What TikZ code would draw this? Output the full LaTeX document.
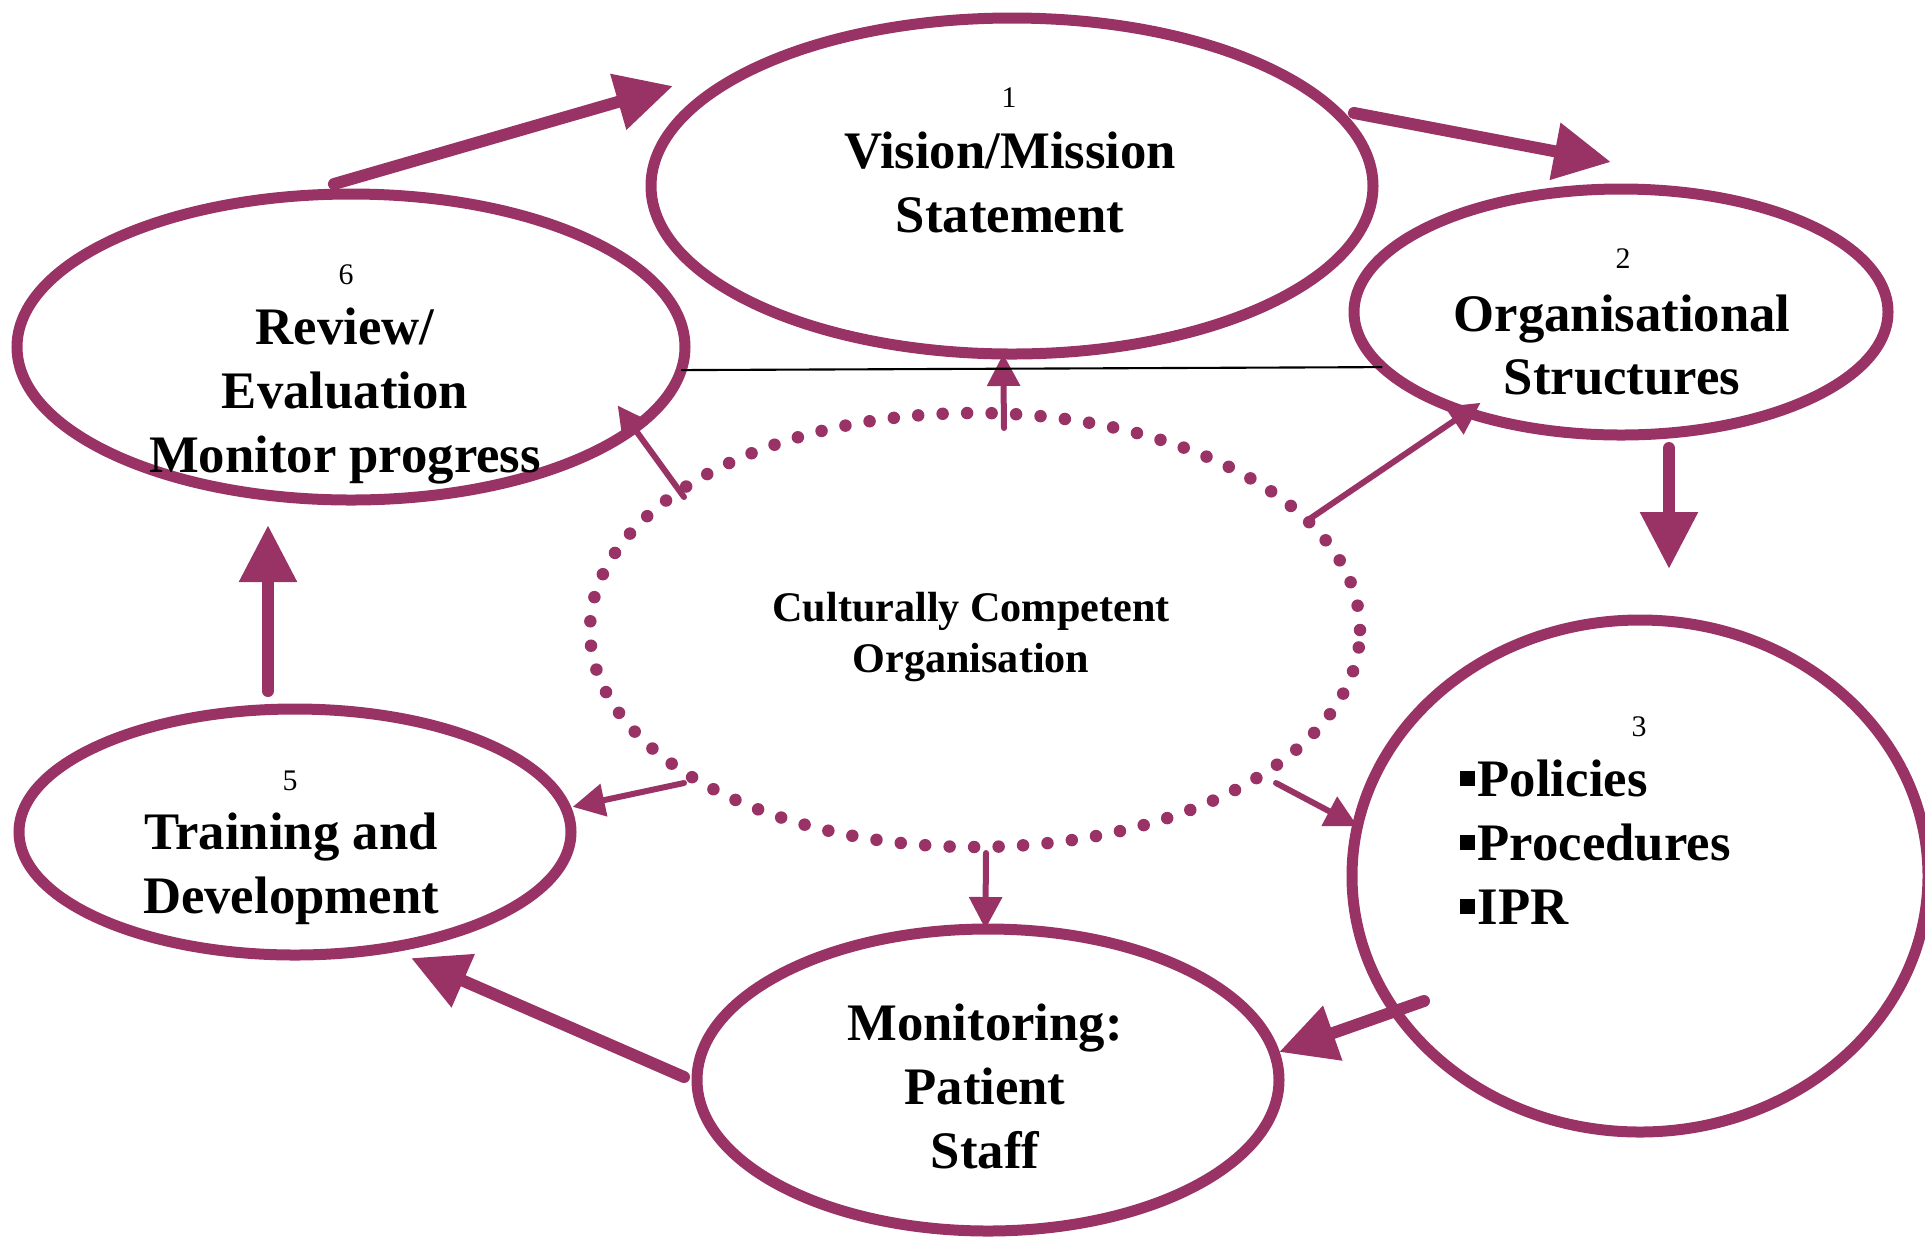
\documentclass[tikz,border=0pt]{standalone}
\usepackage{fontspec}
\setmainfont{Liberation Serif}
\usetikzlibrary{shapes.geometric,arrows.meta}
\definecolor{plum}{HTML}{993366}
\newcommand{\stagefont}{\bfseries\fontsize{15}{18.2}\selectfont}
\newcommand{\numfont}{\fontsize{8.5}{10}\selectfont}
\newcommand{\sqbullet}{\rule[0.1cm]{0.15cm}{0.15cm}\hspace{0.03cm}}

\begin{document}
\begin{tikzpicture}[
    stage/.style={draw=plum, line width=1.1mm, ellipse, inner sep=0pt, outer sep=0pt},
    stagetext/.style={font=\stagefont, align=center, inner sep=0pt},
    num/.style={font=\numfont, inner sep=0pt},
    bigarrow/.style={draw=plum, line width=1.2mm, line cap=round, -{Triangle[length=5.7mm,width=5.5mm]}},
    smallarrow/.style={draw=plum, line width=0.6mm, line cap=round, -{Triangle[length=3.2mm,width=3.2mm]}},
    dotring/.style={draw=plum, ellipse, line width=1.25mm, line cap=round, dash pattern=on 0pt off 2.45mm}
  ]
  \useasboundingbox (0,0) rectangle (19.25,-12.46);

  % Stages
  \node[stage, minimum width=7.22cm, minimum height=3.36cm] (vision) at (10.12,-1.86) {};
  \node[stage, minimum width=5.34cm, minimum height=2.46cm] (org) at (16.21,-3.12) {};
  \node[stage, minimum width=5.76cm, minimum height=5.12cm] (policies) at (16.40,-8.76) {};
  \node[stage, minimum width=5.82cm, minimum height=3.02cm] (monitoring) at (9.88,-10.80) {};
  \node[stage, minimum width=5.52cm, minimum height=2.46cm] (training) at (2.95,-8.32) {};
  \node[stage, minimum width=6.68cm, minimum height=3.06cm] (review) at (3.51,-3.47) {};

  % Centre
  \node[dotring, minimum width=7.70cm, minimum height=4.34cm] (cco) at (9.75,-6.30) {};
  \node[font=\bfseries\fontsize{12}{14.6}\selectfont, align=center, inner sep=0pt] (ccotext) at (9.71,-6.37) {Culturally Competent\\Organisation};

  % Labels
  \node[num] (n1) at (10.09,-0.98) {1};
  \node[num] (n2) at (16.23,-2.59) {2};
  \node[num] (n3) at (16.39,-7.27) {3};
  \node[num] (n5) at (2.90,-7.81) {5};
  \node[num] (n6) at (3.46,-2.75) {6};
  \node[stagetext] (visiontext) at (10.10,-1.82) {Vision/Mission\\Statement};
  \node[stagetext] (orgtext) at (16.22,-3.45) {Organisational\\Structures};
  \node[stagetext, align=left, anchor=west] (policytext) at (14.59,-8.42) {\sqbullet Policies\\\sqbullet Procedures\\\sqbullet IPR};
  \node[stagetext] (monitoringtext) at (9.85,-10.86) {Monitoring:\\Patient\\Staff};
  \node[stagetext] (trainingtext) at (2.91,-8.69) {Training and\\Development};
  \node[stagetext] (reviewtext) at (3.45,-3.96) {Review/\\Evaluation\\Monitor progress};

  % Cycle
  \coordinate (a0) at (3.34,-1.84);   \coordinate (a1) at (6.73,-0.86);
  \coordinate (b0) at (13.54,-1.13);  \coordinate (b1) at (16.11,-1.62);
  \coordinate (c0) at (16.69,-4.48);  \coordinate (c1) at (16.69,-5.69);
  \coordinate (d0) at (14.24,-10.01); \coordinate (d1) at (12.79,-10.52);
  \coordinate (e0) at (6.84,-10.77);  \coordinate (e1) at (4.11,-9.58);
  \coordinate (f0) at (2.68,-6.91);   \coordinate (f1) at (2.68,-5.25);
  \draw[bigarrow] (a0) -- (a1);
  \draw[bigarrow] (b0) -- (b1);
  \draw[bigarrow] (c0) -- (c1);
  \draw[bigarrow] (d0) -- (d1);
  \draw[bigarrow] (e0) -- (e1);
  \draw[bigarrow] (f0) -- (f1);

  % Spokes
  \coordinate (g0) at (10.04,-4.28);
  \coordinate (h0) at (6.84,-4.97);
  \coordinate (i0) at (13.08,-5.20);
  \coordinate (j0) at (12.76,-7.83);
  \coordinate (k0) at (9.86,-8.53);
  \coordinate (l0) at (6.84,-7.83);
  \draw[smallarrow] (g0) -- (vision.267);
  \draw[smallarrow, shorten >=-0.28cm] (h0) -- (review.-16);
  \draw[smallarrow, shorten >=-0.17cm] (i0) -- (org.213);
  \draw[smallarrow] (j0) -- (policies.170);
  \draw[smallarrow] (k0) -- (monitoring.91);
  \draw[smallarrow, shorten >=0.07cm] (l0) -- (training.5);

  \draw[line width=0.6pt] (review.-4) -- (org.193);
\end{tikzpicture}
\end{document}
